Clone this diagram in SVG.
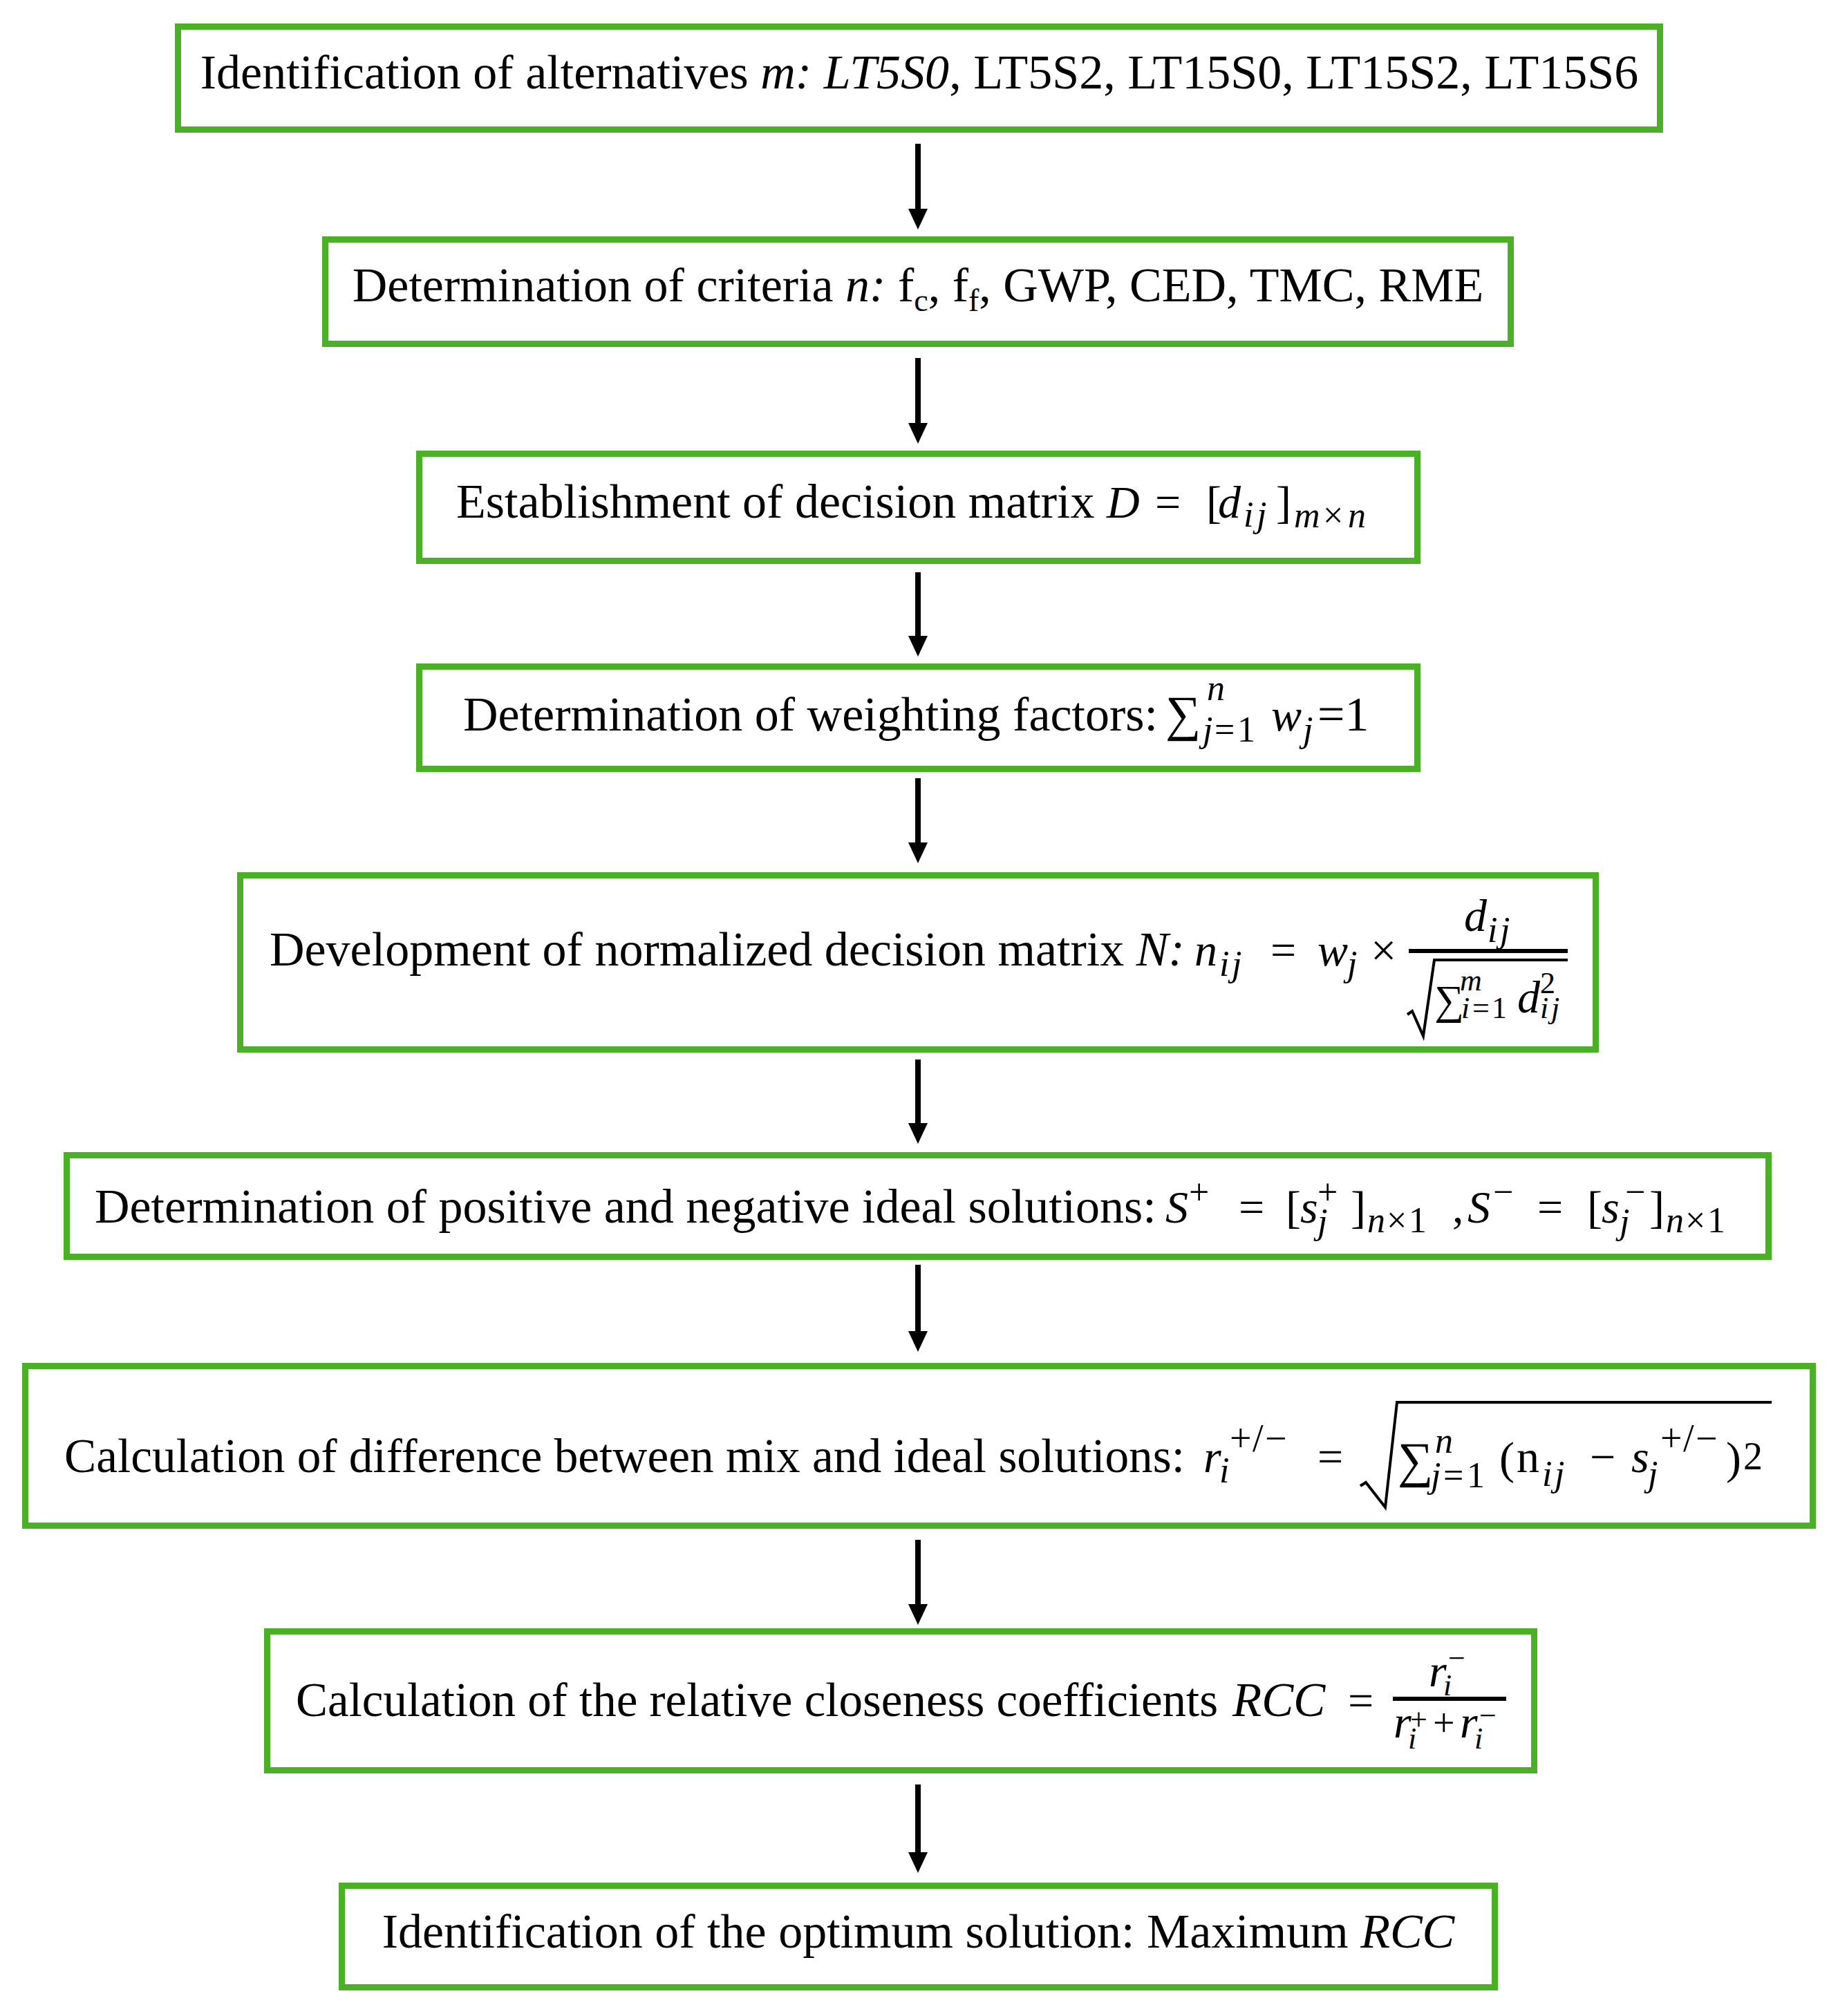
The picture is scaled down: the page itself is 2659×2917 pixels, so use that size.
<svg xmlns="http://www.w3.org/2000/svg" width="2659" height="2917" viewBox="0 0 2659 2917">
<style>
.box{fill:#fff;stroke:#4CAF28;stroke-width:9}
.t{font-family:"Liberation Serif","Times New Roman",serif;font-size:70px;fill:#000}
.i{font-style:italic}
.m{font-family:"Liberation Serif","Times New Roman",serif;font-size:66px;font-style:italic;fill:#000}
.up{font-style:normal}
.s{font-size:52px}
.ss{font-size:44px}
.sg{font-family:"Liberation Serif","DejaVu Serif",serif;font-style:normal}
.rad{fill:none;stroke:#000;stroke-width:4;stroke-linejoin:miter}
.conn line{stroke:#000;stroke-width:8}
</style>
<defs>
<marker id="ah" markerUnits="userSpaceOnUse" markerWidth="30" markerHeight="28" viewBox="0 0 30 28" refX="0" refY="14" orient="auto">
<path d="M0,0 L30,14 L0,28 z" fill="#000"/>
</marker>
</defs>
<rect width="2659" height="2917" fill="#fff"/>

<g id="connectors" class="conn">
<line x1="1328" y1="208" x2="1328" y2="302" marker-end="url(#ah)"/>
<line x1="1328" y1="518" x2="1328" y2="612" marker-end="url(#ah)"/>
<line x1="1328" y1="828" x2="1328" y2="920" marker-end="url(#ah)"/>
<line x1="1328" y1="1126" x2="1328" y2="1219" marker-end="url(#ah)"/>
<line x1="1328" y1="1533" x2="1328" y2="1625" marker-end="url(#ah)"/>
<line x1="1328" y1="1830" x2="1328" y2="1926" marker-end="url(#ah)"/>
<line x1="1328" y1="2228" x2="1328" y2="2321" marker-end="url(#ah)"/>
<line x1="1328" y1="2582" x2="1328" y2="2680" marker-end="url(#ah)"/>
</g>

<g id="node1">
<rect class="box" x="257.5" y="38.5" width="2144" height="149"/>
<text class="t" x="1330" y="128" text-anchor="middle">Identification of alternatives <tspan class="i">m: LT5S0</tspan>, LT5S2, LT15S0, LT15S2, LT15S6</text>
</g>

<g id="node2">
<rect class="box" x="470.5" y="346.5" width="1715" height="151"/>
<text class="t" x="1328" y="436" text-anchor="middle">Determination of criteria <tspan class="i">n:</tspan> f<tspan font-size="46" dy="14">c</tspan><tspan dy="-14">, f</tspan><tspan font-size="46" dy="14">f</tspan><tspan dy="-14">, GWP, CED, TMC, RME</tspan></text>
</g>

<g id="node3">
<rect class="box" x="606.5" y="656.5" width="1444" height="155"/>
<text class="t" x="660" y="749">Establishment of decision matrix</text>
<text class="m"><tspan x="1601" y="749">D</tspan><tspan class="up" x="1671" y="749">=</tspan><tspan class="up" x="1745" y="749">[</tspan><tspan x="1762" y="749">d</tspan><tspan class="s" x="1799 1818" y="762">ij</tspan><tspan class="up" x="1846" y="749">]</tspan><tspan class="s" x="1872" y="763">m</tspan><tspan class="s up" x="1914" y="763">×</tspan><tspan class="s" x="1950" y="763">n</tspan></text>
</g>

<g id="node4">
<rect class="box" x="606.5" y="964.5" width="1444" height="148"/>
<text class="t" x="670" y="1057">Determination of weighting factors:</text>
<text class="m"><tspan class="sg" font-size="72" x="1686" y="1057">∑</tspan><tspan class="s" x="1746" y="1013">n</tspan><tspan class="s" x="1740" y="1073">j</tspan><tspan class="s up" x="1757 1790" y="1073">=1</tspan><tspan x="1839" y="1057">w</tspan><tspan class="s" x="1885" y="1073">j</tspan><tspan class="up" font-size="70" x="1906" y="1057">=1</tspan></text>
</g>

<g id="node5">
<rect class="box" x="347.5" y="1266.5" width="1961" height="252"/>
<text class="t" x="390" y="1397">Development of normalized decision matrix <tspan class="i">N:</tspan></text>
<text class="m"><tspan x="1728" y="1397">n</tspan><tspan class="s" x="1764 1782" y="1412">ij</tspan><tspan class="up" x="1838" y="1397">=</tspan><tspan x="1906" y="1397">w</tspan><tspan class="s" x="1949" y="1412">j</tspan><tspan class="up" x="1983" y="1397">×</tspan><tspan x="2118" y="1347">d</tspan><tspan class="s" x="2152 2170" y="1363">ij</tspan><tspan class="sg" font-size="60" x="2075" y="1467">∑</tspan><tspan class="ss" x="2112" y="1433">m</tspan><tspan class="ss" x="2114" y="1473">i</tspan><tspan class="ss up" x="2130 2158" y="1473">=1</tspan><tspan x="2195" y="1465">d</tspan><tspan class="ss up" x="2228" y="1437">2</tspan><tspan class="ss" x="2228 2244" y="1473">ij</tspan></text>
<rect x="2038" y="1373" width="230" height="6" fill="#000"/>
<path class="rad" d="M2036,1468 L2043,1463 L2059,1499 L2075,1389 L2268,1389"/>
</g>

<g id="node6">
<rect class="box" x="96.5" y="1671.5" width="2462" height="147"/>
<text class="t" x="137" y="1769">Determination of positive and negative ideal solutions:</text>
<text class="m"><tspan x="1686" y="1769">S</tspan><tspan class="s up" x="1720" y="1742">+</tspan><tspan class="up" x="1792" y="1769">=</tspan><tspan class="up" x="1860" y="1769">[</tspan><tspan x="1881" y="1769">s</tspan><tspan class="s up" x="1906" y="1742">+</tspan><tspan class="s" x="1906" y="1785">j</tspan><tspan class="up" x="1954" y="1769">]</tspan><tspan class="s" x="1978" y="1783">n</tspan><tspan class="s up" x="2006 2038" y="1783">×1</tspan><tspan class="up" x="2101" y="1769">,</tspan><tspan x="2123" y="1769">S</tspan><tspan class="s up" x="2160" y="1742">−</tspan><tspan class="up" x="2224" y="1769">=</tspan><tspan class="up" x="2296" y="1769">[</tspan><tspan x="2317" y="1769">s</tspan><tspan class="s up" x="2351" y="1742">−</tspan><tspan class="s" x="2343" y="1785">j</tspan><tspan class="up" x="2386" y="1769">]</tspan><tspan class="s" x="2410" y="1783">n</tspan><tspan class="s up" x="2438 2470" y="1783">×1</tspan></text>
</g>

<g id="node7">
<rect class="box" x="36.5" y="1976.5" width="2586" height="231"/>
<text class="t" x="93" y="2130" style="font-size:69.3px">Calculation of difference between mix and ideal solutions:</text>
<text class="m"><tspan x="1741" y="2130">r</tspan><tspan class="s" x="1764" y="2145">i</tspan><tspan class="up" font-size="56" x="1779 1812 1830" y="2100">+/−</tspan><tspan class="up" x="1906" y="2130">=</tspan><tspan class="sg" font-size="72" x="2022" y="2137">∑</tspan><tspan class="s" x="2076" y="2102">n</tspan><tspan class="s" x="2070" y="2152">j</tspan><tspan class="s up" x="2088 2122" y="2152">=1</tspan><tspan class="up" x="2169" y="2132">(</tspan><tspan class="up" x="2194" y="2130">n</tspan><tspan class="s" x="2231 2249" y="2150">ij</tspan><tspan class="up" x="2300" y="2130">−</tspan><tspan x="2360" y="2130">s</tspan><tspan class="s" x="2384" y="2150">j</tspan><tspan class="up" font-size="56" x="2402 2435 2453" y="2100">+/−</tspan><tspan class="up" x="2497" y="2132">)</tspan><tspan class="up" font-size="56" x="2522" y="2126">2</tspan></text>
<path class="rad" d="M1968,2150 L1976,2145 L2004,2181 L2021,2029 L2563,2029"/>
</g>

<g id="node8">
<rect class="box" x="386.5" y="2360.5" width="1833" height="201"/>
<text class="t" x="428" y="2483" style="font-size:69px">Calculation of the relative closeness coefficients</text>
<text class="m"><tspan font-size="69" x="1783" y="2483">RCC</tspan><tspan class="up" x="1950" y="2483">=</tspan><tspan x="2067" y="2440">r</tspan><tspan class="ss" x="2088" y="2453">i</tspan><tspan class="ss up" x="2095" y="2414">−</tspan><tspan x="2016" y="2514">r</tspan><tspan class="ss" x="2037" y="2530">i</tspan><tspan class="ss up" x="2040" y="2503">+</tspan><tspan class="up" font-size="56" x="2073" y="2512">+</tspan><tspan x="2112" y="2514">r</tspan><tspan class="ss" x="2133" y="2530">i</tspan><tspan class="ss up" x="2140" y="2497">−</tspan></text>
<rect x="2015" y="2455" width="164" height="6" fill="#000"/>
</g>

<g id="node9">
<rect class="box" x="494.5" y="2728.5" width="1668" height="147"/>
<text class="t" x="1328.5" y="2818" text-anchor="middle">Identification of the optimum solution: Maximum <tspan class="i">RCC</tspan></text>
</g>
</svg>
